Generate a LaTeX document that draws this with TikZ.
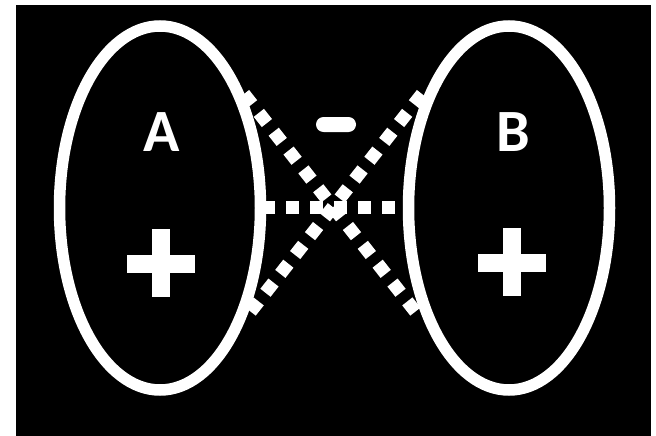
\documentclass[tikz,border=0pt]{standalone}
\usepackage{fontspec}
\newfontfamily\labelfont{Carlito}
\begin{document}
\begin{tikzpicture}[x=1pt,y=-1pt,
  ring/.style={draw=white,line width=11.5pt},
  dots/.style={white,line width=13pt,dash pattern=on 13pt off 11pt},
  letter/.style={text=white,font=\labelfont\bfseries\fontsize{60}{60}\selectfont,inner sep=0pt},
  bar/.style={fill=white,draw=none}]
\useasboundingbox (0,0) rectangle (656,436);
\fill[white] (0,0) rectangle (656,436);
\fill[black] (16,5) rectangle (651,436);
% anchors
\coordinate (cA) at (160,208);
\coordinate (cB) at (509,208);
\coordinate (x) at (333,207);
\coordinate (ul) at (244,94);
\coordinate (lr) at (422,320);
\coordinate (ur) at (422,94);
\coordinate (ll) at (244,320);
\coordinate (hl) at (262,207);
\coordinate (hr) at (402,207);
% dotted connectors
\draw[dots] (ul) -- (lr);
\draw[dots] (ur) -- (ll);
\draw[dots] (hl) -- (hr);
% ellipses
\draw[ring] (cA) ellipse [x radius=100.5, y radius=182];
\draw[ring] (cB) ellipse [x radius=100.5, y radius=182];
% labels
\node[letter] (A) at (161.5,132) {A};
\node[letter] (B) at (513.5,132) {B};
% plus signs
\fill[bar] (152,229) rectangle (170,297);
\fill[bar] (127,255) rectangle (195,273);
\fill[bar] (503,228) rectangle (521,296);
\fill[bar] (478,254) rectangle (546,272);
% minus sign
\fill[bar,rounded corners=7.5pt] (316,117) rectangle (356,132);
\end{tikzpicture}
\end{document}
